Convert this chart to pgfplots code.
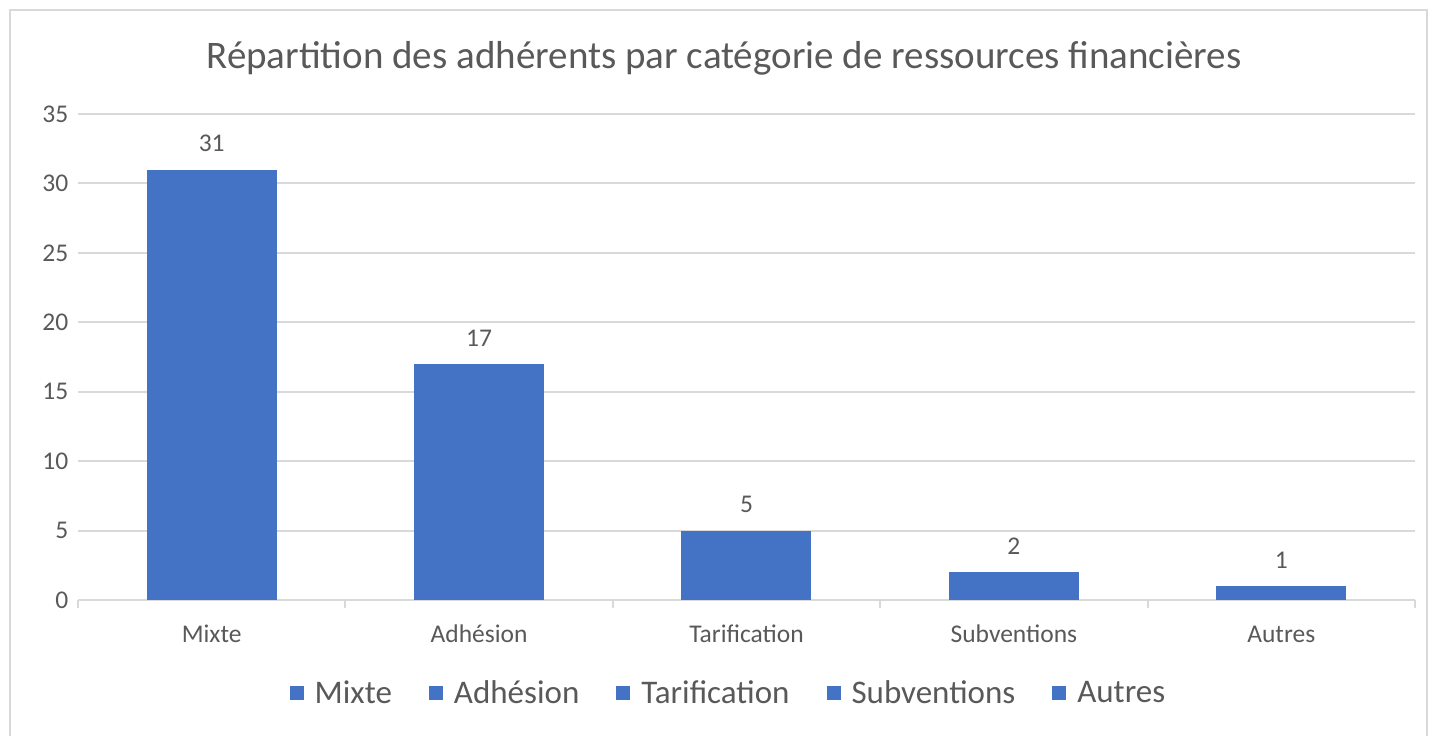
\documentclass[border=0pt]{standalone}
\usepackage{pgfplots}
\pgfplotsset{compat=1.18}
\usepackage{fontspec}
\setmainfont{Carlito}
\definecolor{barblue}{HTML}{4472C4}
\definecolor{txtgray}{HTML}{595959}
\definecolor{gridgray}{HTML}{D9D9D9}
\begin{document}
\begin{tikzpicture}
\useasboundingbox (0,0) rectangle (1432pt,736pt);
\draw[gridgray, line width=2pt] (10pt,-10pt) rectangle (1427pt,726pt);
\node[txtgray, font=\fontsize{39}{46}\selectfont] at (724pt,678pt) {Répartition des adhérents par catégorie de ressources financières};
\begin{axis}[
  at={(78pt,136pt)}, anchor=south west,
  scale only axis, width=1337pt, height=486pt,
  xmin=-0.5, xmax=4.5, ymin=0, ymax=35,
  ybar, bar width=130pt,
  axis x line*=bottom, axis y line*=left,
  y axis line style={draw=none},
  x axis line style={gridgray, line width=2pt},
  ytick={0,5,...,35},
  ytick style={draw=none},
  ymajorgrids, grid style={gridgray, line width=2pt},
  xtick={0,1,2,3,4},
  xticklabels={Mixte,Adhésion,Tarification,Subventions,Autres},
  major x tick style={draw=none},
  minor xtick={-0.5,0.5,1.5,2.5,3.5,4.5},
  minor x tick style={gridgray, line width=2pt},
  minor tick length=8pt,
  tick align=outside,
  /pgf/number format/assume math mode=true,
  ticklabel style={txtgray, font=\fontsize{25.5}{30}\selectfont},
  yticklabel style={xshift=-2pt},
  xticklabel style={text depth=0pt, text height=17pt, yshift=-18pt},
  nodes near coords,
  every node near coord/.append style={txtgray, font=\fontsize{25.5}{30}\selectfont, anchor=south, yshift=14pt, /pgf/number format/assume math mode=true},
  legend columns=5,
  legend style={at={(rel axis cs:0.4865,0)}, anchor=center, yshift=-93pt, draw=none, fill=none, font=\fontsize{33}{40}\selectfont, text=txtgray,
    /tikz/every odd column/.append style={column sep=9pt},
    /tikz/every even column/.append style={column sep=35pt}},
  legend image code/.code={\fill[barblue] (0pt,-7pt) rectangle (14pt,7pt);},
]
\addplot[fill=barblue, draw=none, bar shift=0pt] coordinates {(0,31)};
\addplot[fill=barblue, draw=none, bar shift=0pt] coordinates {(1,17)};
\addplot[fill=barblue, draw=none, bar shift=0pt] coordinates {(2,5)};
\addplot[fill=barblue, draw=none, bar shift=0pt] coordinates {(3,2)};
\addplot[fill=barblue, draw=none, bar shift=0pt] coordinates {(4,1)};
\legend{Mixte,Adhésion,Tarification,Subventions,Autres}
\end{axis}
\end{tikzpicture}
\end{document}
